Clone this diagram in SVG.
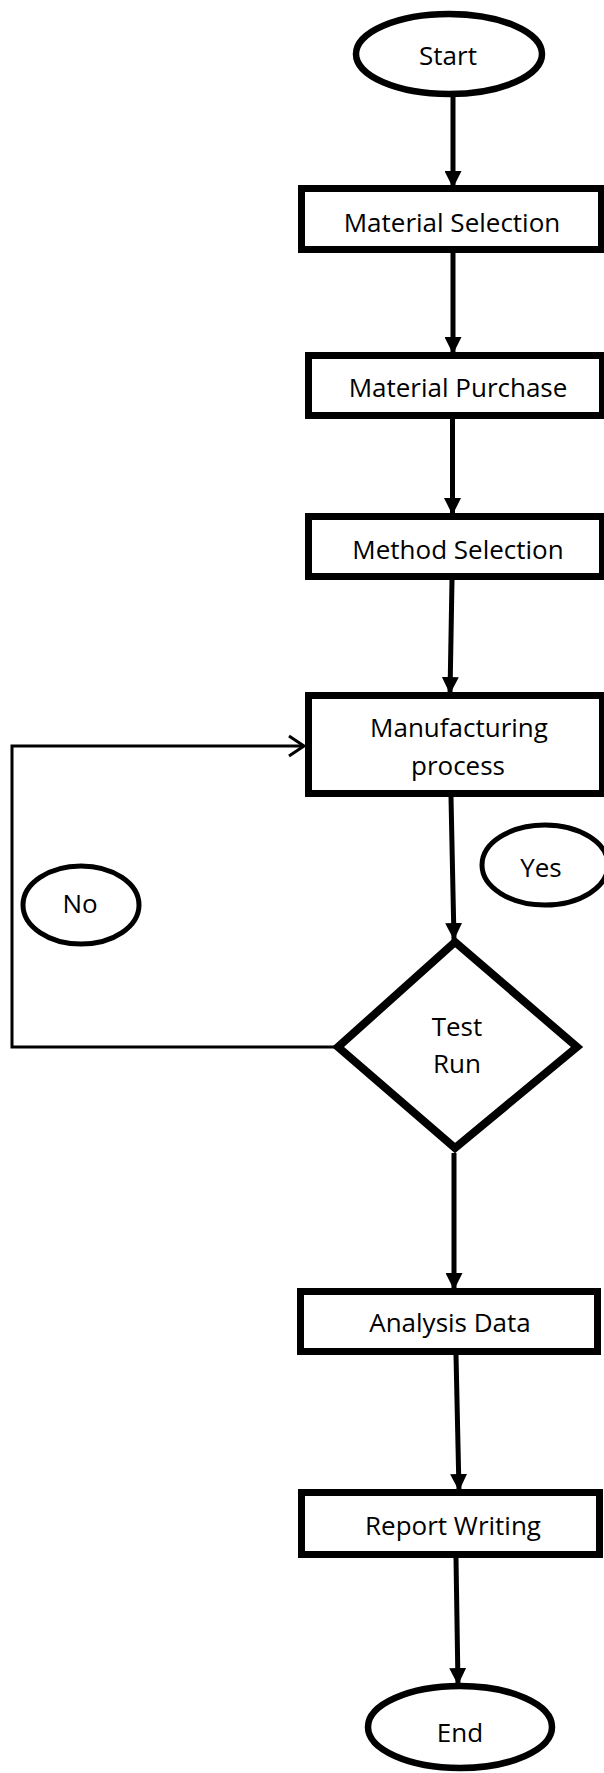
<svg xmlns="http://www.w3.org/2000/svg" width="604" height="1773" viewBox="0 0 604 1773">
<style>
.box{fill:#fff;stroke:#000;stroke-width:7}
.term{fill:#fff;stroke:#000;stroke-width:6.5}
.lbl{fill:#fff;stroke:#000;stroke-width:5}
.dia{fill:#fff;stroke:#000;stroke-width:8;stroke-linejoin:miter}
.t{font-family:"Open Sans","Liberation Sans",sans-serif;font-size:26px;fill:#000;text-anchor:middle}
.c{fill:none;stroke:#000;stroke-width:5}
.loop{fill:none;stroke:#000;stroke-width:3}
</style>
<defs>
<marker id="ah" viewBox="0 0 17 17" refX="17" refY="8.5" markerWidth="17" markerHeight="17" markerUnits="userSpaceOnUse" orient="auto">
<path d="M0,0 L17,8.5 L0,17 z" fill="#000"/>
</marker>
<marker id="oh" viewBox="-3 -3 21 26" refX="15" refY="10" markerWidth="21" markerHeight="26" markerUnits="userSpaceOnUse" orient="auto">
<path d="M0,0 L15,10 L0,20" fill="none" stroke="#000" stroke-width="3"/>
</marker>
</defs>
<rect width="604" height="1773" fill="#fff"/>
<g id="connectors">
<line class="c" x1="453" y1="97" x2="453" y2="188" marker-end="url(#ah)"/>
<line class="c" x1="453" y1="253" x2="453" y2="354" marker-end="url(#ah)"/>
<line class="c" x1="452.5" y1="419" x2="452.5" y2="515" marker-end="url(#ah)"/>
<line class="c" x1="452" y1="580" x2="450" y2="694" marker-end="url(#ah)"/>
<line class="c" x1="451" y1="797" x2="454" y2="940" marker-end="url(#ah)"/>
<line class="c" x1="454" y1="1153" x2="454" y2="1290" marker-end="url(#ah)"/>
<line class="c" x1="456" y1="1355" x2="459" y2="1491" marker-end="url(#ah)"/>
<line class="c" x1="456" y1="1558" x2="458" y2="1685" marker-end="url(#ah)"/>
<polyline class="loop" points="336,1047 12,1047 12,746 304,746" marker-end="url(#oh)"/>
</g>
<g id="start">
<ellipse class="term" cx="449" cy="54" rx="93" ry="40"/>
<text class="t" x="448" y="65">Start</text>
</g>
<g id="material-selection">
<rect class="box" x="301.5" y="188.5" width="300" height="61"/>
<text class="t" x="452" y="232">Material Selection</text>
</g>
<g id="material-purchase">
<rect class="box" x="308.5" y="355.5" width="294" height="60"/>
<text class="t" x="458" y="397">Material Purchase</text>
</g>
<g id="method-selection">
<rect class="box" x="308.5" y="516.5" width="294" height="60"/>
<text class="t" x="458" y="559">Method Selection</text>
</g>
<g id="manufacturing">
<rect class="box" x="308.5" y="695.5" width="294" height="98"/>
<text class="t" x="459" y="737">Manufacturing</text>
<text class="t" x="458" y="775">process</text>
</g>
<g id="yes">
<ellipse class="lbl" cx="545" cy="865" rx="63" ry="40"/>
<text class="t" x="541" y="877">Yes</text>
</g>
<g id="no">
<ellipse class="lbl" cx="81" cy="905" rx="58" ry="39"/>
<text class="t" x="80" y="913">No</text>
</g>
<g id="test-run">
<polygon class="dia" points="455,942 577,1047 455,1148 338,1047"/>
<text class="t" x="457" y="1036">Test</text>
<text class="t" x="457" y="1073">Run</text>
</g>
<g id="analysis-data">
<rect class="box" x="300.5" y="1291.5" width="297" height="60"/>
<text class="t" x="450" y="1332">Analysis Data</text>
</g>
<g id="report-writing">
<rect class="box" x="301.5" y="1492.5" width="298" height="62"/>
<text class="t" x="453" y="1535">Report Writing</text>
</g>
<g id="end">
<ellipse class="term" cx="460" cy="1727" rx="92" ry="41"/>
<text class="t" x="460" y="1742">End</text>
</g>
</svg>
